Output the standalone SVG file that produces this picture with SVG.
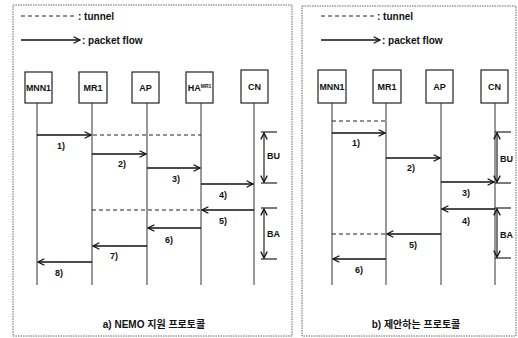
<svg xmlns="http://www.w3.org/2000/svg" width="518" height="338" viewBox="0 0 518 338">
<defs>
<marker id="ah" viewBox="0 0 10 10" refX="9" refY="5" markerWidth="8" markerHeight="8" orient="auto-start-reverse" markerUnits="userSpaceOnUse"><path d="M1,1 L9,5 L1,9" fill="none" stroke="#111" stroke-width="1.6"/></marker>
</defs>
<style>
.panel{fill:#fff;stroke:#666;stroke-width:1;stroke-dasharray:1.5 1}
.box{fill:#fff;stroke:#222;stroke-width:1.2}
.life{stroke:#333;stroke-width:1}
.msg{stroke:#111;stroke-width:1.4;fill:none;marker-end:url(#ah)}
.tun{stroke:#222;stroke-width:1;stroke-dasharray:4 3;fill:none}
.bar{stroke:#222;stroke-width:1.2}
.dbl{stroke:#222;stroke-width:1.2;marker-start:url(#ah);marker-end:url(#ah)}
text{font-family:"Liberation Sans","Noto Sans CJK KR",sans-serif;font-weight:bold;fill:#111}
.nl{font-size:9px;text-anchor:middle}
.lb{font-size:9px}
.lg{font-size:10px}
.tt{font-size:10px;text-anchor:middle}
</style>
<rect width="518" height="338" fill="#fff"/>
<g id="panel-a">
<rect class="panel" x="13" y="5" width="279" height="331"/>
<line class="tun" x1="21" y1="16" x2="77" y2="16"/>
<text class="lg" x="78" y="20">: tunnel</text>
<line class="msg" x1="21" y1="40" x2="80" y2="40"/>
<text class="lg" x="82" y="44">: packet flow</text>
<text class="tt" x="154" y="328">a) NEMO 지원 프로토콜</text>
</g>
<g id="panel-b">
<rect class="panel" x="302" y="6" width="214" height="330"/>
<line class="tun" x1="321" y1="16" x2="376" y2="16"/>
<text class="lg" x="377" y="20">: tunnel</text>
<line class="msg" x1="321" y1="40" x2="380" y2="40"/>
<text class="lg" x="382" y="44">: packet flow</text>
<text class="tt" x="416" y="328">b) 제안하는 프로토콜</text>
</g>
<g id="a-MNN1"><rect class="box" x="25" y="72" width="27" height="31"/><text class="nl" x="38.5" y="91" textLength="25" lengthAdjust="spacingAndGlyphs">MNN1</text><line class="life" x1="37" y1="103" x2="37" y2="285"/></g>
<g id="a-MR1"><rect class="box" x="79" y="72" width="28" height="31"/><text class="nl" x="93" y="91">MR1</text><line class="life" x1="92" y1="103" x2="92" y2="285"/></g>
<g id="a-AP"><rect class="box" x="132" y="72" width="27" height="31"/><text class="nl" x="145.5" y="91">AP</text><line class="life" x1="147" y1="103" x2="147" y2="285" stroke-width="1.4"/></g>
<g id="a-HA"><rect class="box" x="186" y="72" width="27" height="31"/><text class="nl" x="199.5" y="91">HA<tspan font-size="5" dy="-3">MR1</tspan></text><line class="life" x1="201" y1="103" x2="201" y2="285"/></g>
<g id="a-CN"><rect class="box" x="241" y="70" width="27" height="33"/><text class="nl" x="254.5" y="90">CN</text><line class="life" x1="254" y1="103" x2="254" y2="285"/></g>
<g id="b-MNN1"><rect class="box" x="318" y="70" width="28" height="33"/><text class="nl" x="332" y="90" textLength="25" lengthAdjust="spacingAndGlyphs">MNN1</text><line class="life" x1="332" y1="103" x2="332" y2="285"/></g>
<g id="b-MR1"><rect class="box" x="373" y="70" width="28" height="33"/><text class="nl" x="387" y="90">MR1</text><line class="life" x1="386" y1="103" x2="386" y2="285"/></g>
<g id="b-AP"><rect class="box" x="426" y="70" width="27" height="33"/><text class="nl" x="439.5" y="90">AP</text><line class="life" x1="441" y1="103" x2="441" y2="285"/></g>
<g id="b-CN"><rect class="box" x="481" y="70" width="27" height="33"/><text class="nl" x="494.5" y="90">CN</text><line class="life" x1="495" y1="103" x2="495" y2="285"/></g>
<g id="connectors">
<line class="msg" x1="37" y1="135" x2="91" y2="135"/>
<line class="tun" x1="93" y1="135" x2="201" y2="135"/>
<line class="msg" x1="92" y1="154" x2="146" y2="154"/>
<line class="msg" x1="147" y1="168" x2="200" y2="168"/>
<line class="msg" x1="201" y1="184" x2="253" y2="184"/>
<line class="msg" x1="254" y1="210" x2="202" y2="210"/>
<line class="tun" x1="92" y1="210" x2="200" y2="210"/>
<line class="msg" x1="201" y1="228" x2="148" y2="228"/>
<line class="msg" x1="147" y1="246" x2="93" y2="246"/>
<line class="msg" x1="92" y1="262" x2="38" y2="262"/>
<line class="bar" x1="261" y1="132" x2="277" y2="132"/>
<line class="bar" x1="261" y1="183" x2="277" y2="183"/>
<line class="dbl" x1="264" y1="133" x2="264" y2="182"/>
<line class="bar" x1="261" y1="208" x2="277" y2="208"/>
<line class="bar" x1="261" y1="259" x2="277" y2="259"/>
<line class="dbl" x1="264" y1="209" x2="264" y2="258"/>
<line class="tun" x1="332" y1="121" x2="386" y2="121"/>
<line class="msg" x1="332" y1="133" x2="385" y2="133"/>
<line class="msg" x1="386" y1="158" x2="440" y2="158"/>
<line class="msg" x1="441" y1="182" x2="494" y2="182"/>
<line class="msg" x1="495" y1="209" x2="442" y2="209"/>
<line class="msg" x1="441" y1="234" x2="387" y2="234"/>
<line class="tun" x1="332" y1="234" x2="386" y2="234"/>
<line class="msg" x1="386" y1="259" x2="333" y2="259"/>
<line class="bar" x1="495" y1="132" x2="511" y2="132"/>
<line class="bar" x1="495" y1="183" x2="511" y2="183"/>
<line class="dbl" x1="497" y1="133" x2="497" y2="182"/>
<line class="bar" x1="495" y1="208" x2="511" y2="208"/>
<line class="bar" x1="495" y1="258" x2="511" y2="258"/>
<line class="dbl" x1="497" y1="209" x2="497" y2="257"/>
</g>
<g id="labels">
<text class="lb" x="57" y="149">1)</text>
<text class="lb" x="118" y="167">2)</text>
<text class="lb" x="172" y="182">3)</text>
<text class="lb" x="219" y="198">4)</text>
<text class="lb" x="219" y="224">5)</text>
<text class="lb" x="165" y="243">6)</text>
<text class="lb" x="110" y="259">7)</text>
<text class="lb" x="55" y="276">8)</text>
<text class="lb" x="267" y="159">BU</text>
<text class="lb" x="267" y="237">BA</text>
<text class="lb" x="352" y="146">1)</text>
<text class="lb" x="407" y="171">2)</text>
<text class="lb" x="462" y="196">3)</text>
<text class="lb" x="462" y="224">4)</text>
<text class="lb" x="409" y="248">5)</text>
<text class="lb" x="355" y="273">6)</text>
<text class="lb" x="500" y="162">BU</text>
<text class="lb" x="500" y="238">BA</text>
</g>
</svg>
